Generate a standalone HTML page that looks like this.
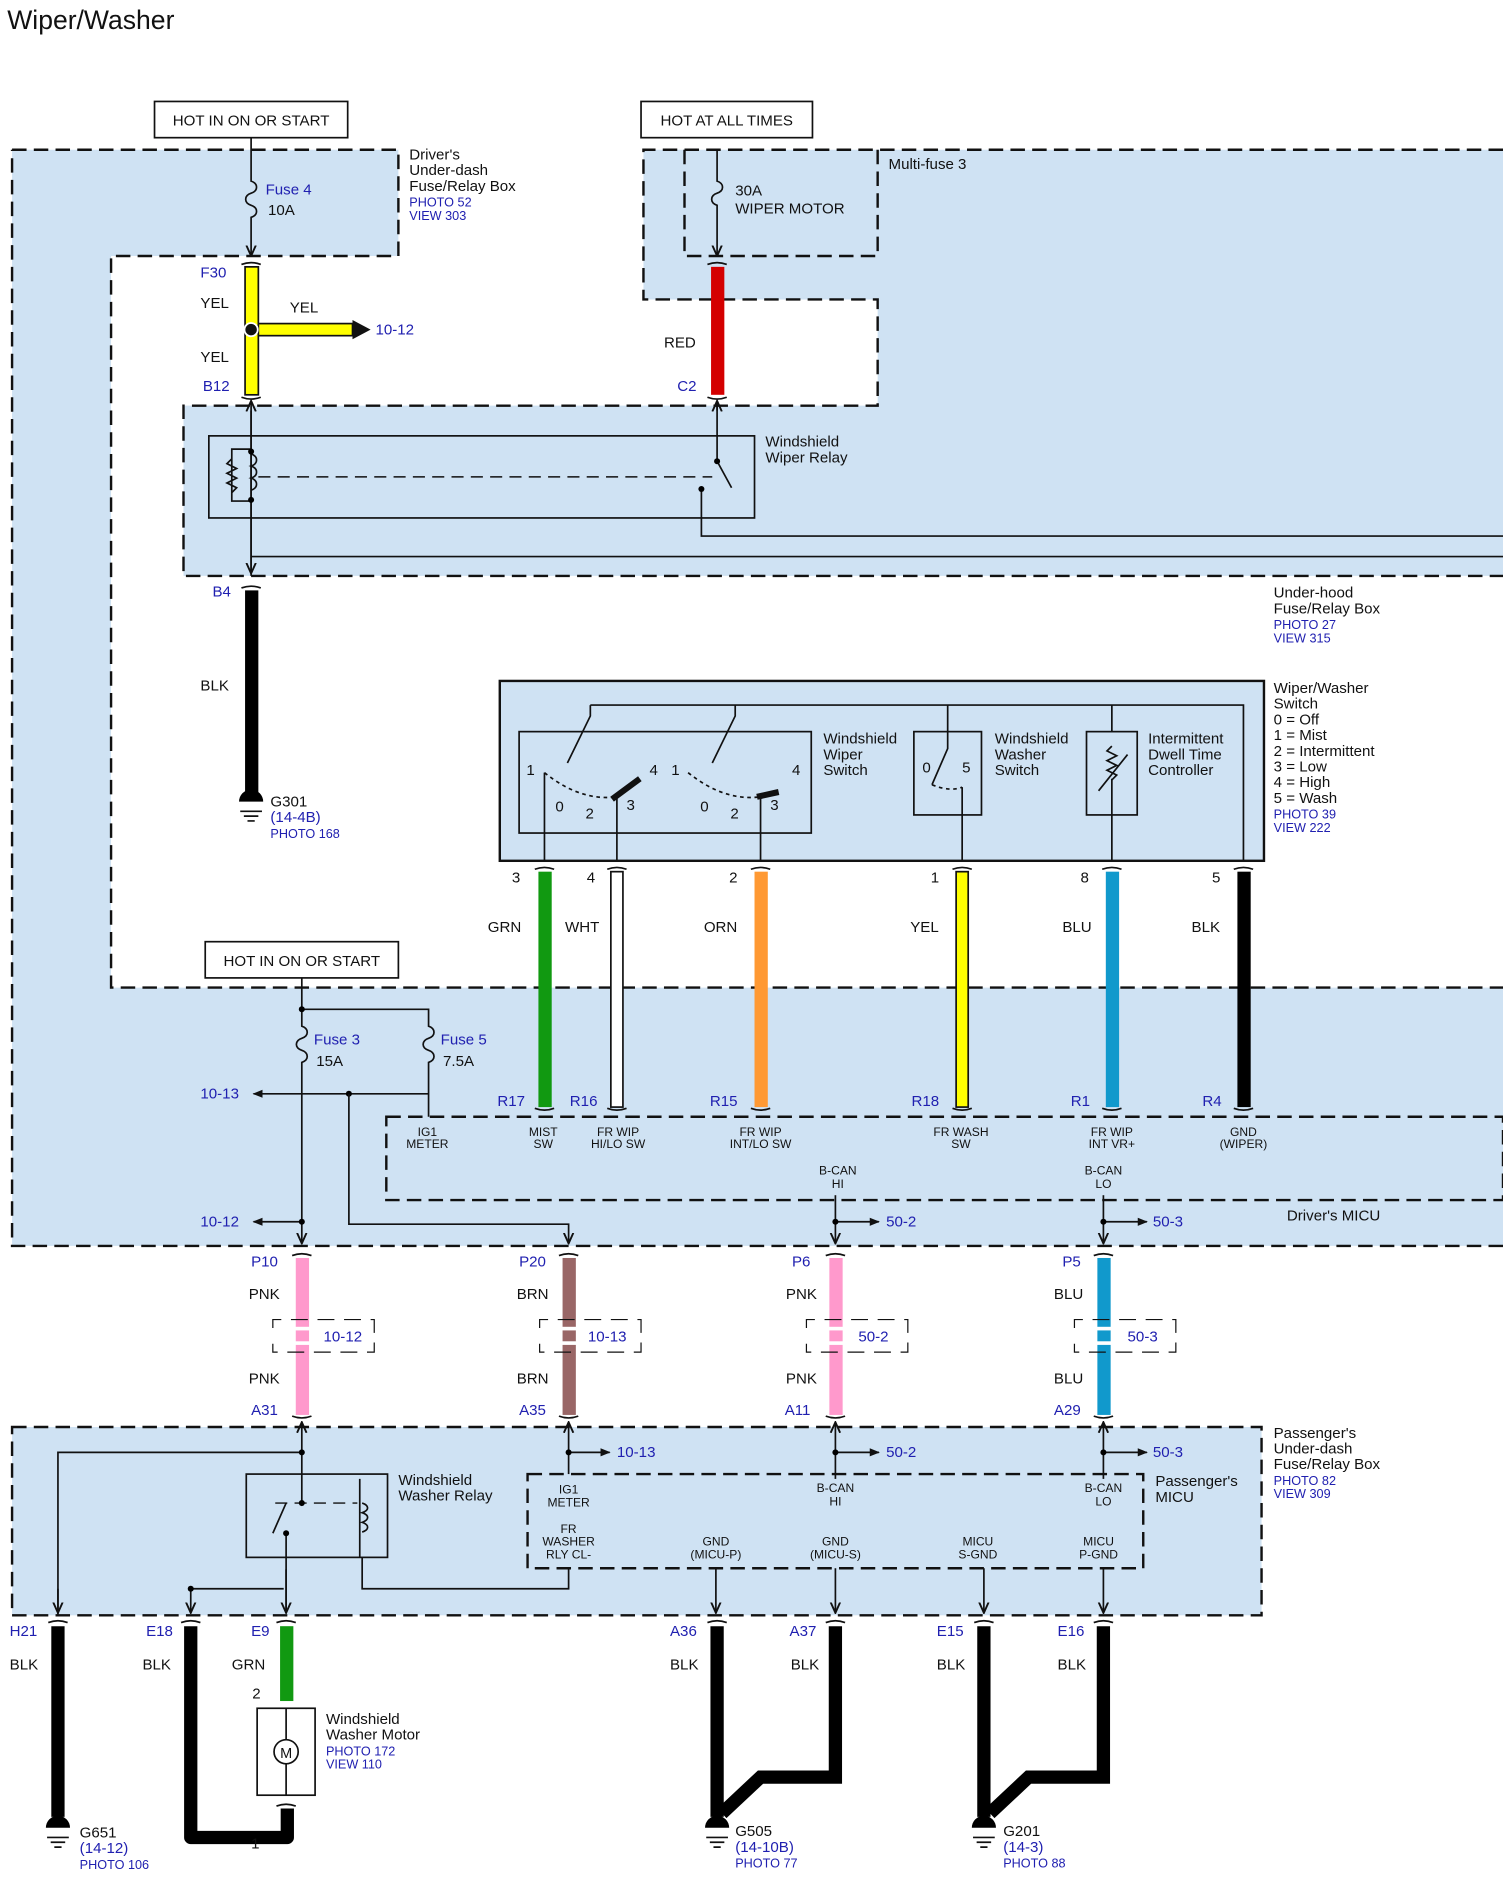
<!DOCTYPE html>
<html><head><meta charset="utf-8"><style>
html,body{margin:0;padding:0;background:#fff}
svg{display:block}
text{font-family:"Liberation Sans",Arial,sans-serif;font-size:12.5px;fill:#111}
.b{fill:#2020b0}
.s{font-size:10px}
.p{font-size:10.5px;fill:#2020b0}
.t{fill:none;stroke:#111;stroke-width:1.4}
.d{fill:none;stroke:#111;stroke-width:2;stroke-dasharray:12,6}
.dt{fill:none;stroke:#111;stroke-width:1.2;stroke-dasharray:10,6}
.m{text-anchor:middle}
</style></head><body>
<svg width="1503" height="1887" viewBox="0 0 1245 1563" xmlns="http://www.w3.org/2000/svg">
<defs>
<marker id="ar" viewBox="0 0 10 10" refX="9" refY="5" markerWidth="7" markerHeight="7" orient="auto"><path d="M0,1 L9,5 L0,9" fill="none" stroke="#111" stroke-width="1.6"/></marker>
<marker id="af" viewBox="0 0 10 10" refX="9" refY="5" markerWidth="6" markerHeight="6" orient="auto"><path d="M0,1 L10,5 L0,9 z" fill="#111"/></marker>
</defs>
<text x="6" y="24" style="font-size:22px">Wiper/Washer</text>

<!-- regions -->
<path d="M10,124 H330 V212 H92 V818 H1245 V1032 H10 Z" fill="#cfe2f3"/>
<path d="M10,124 H330 V212 H92 V818 H1245 M1245,1032 H10 V124" class="d"/>
<path d="M533,124 H1245 V477 H152 V336 H727 V248 H533 Z" fill="#cfe2f3"/>
<path d="M1245,124 H533 V248 H727 V336 H152 V477 H1245" class="d"/>
<path d="M567,124 V212 H727 V124" class="d"/>
<rect x="10" y="1182" width="1035" height="156" fill="#cfe2f3"/>
<rect x="10" y="1182" width="1035" height="156" class="d"/>
<rect x="320" y="925" width="925" height="69" class="d"/>
<rect x="437" y="1221" width="510" height="78" class="d"/>

<!-- top boxes -->
<rect x="128" y="84" width="160" height="30" fill="#fff" stroke="#111" stroke-width="1.4"/>
<text x="208" y="104" class="m">HOT IN ON OR START</text>
<rect x="531" y="84" width="142" height="30" fill="#fff" stroke="#111" stroke-width="1.4"/>
<text x="602" y="104" class="m">HOT AT ALL TIMES</text>

<!-- fuse 4 -->
<path d="M208,114 V150 c6,2 6,8 0,10 c-6,2 -6,8 0,10 c6,2 6,8 0,10 V212" class="t" marker-end="url(#ar)"/>
<text x="220" y="161" class="b">Fuse 4</text><text x="222" y="178">10A</text>
<text x="339" y="132">Driver's</text><text x="339" y="145">Under-dash</text><text x="339" y="158">Fuse/Relay Box</text>
<text x="339" y="171" class="p">PHOTO 52</text><text x="339" y="182" class="p">VIEW 303</text>

<!-- fuse 30A -->
<path d="M594,124 V150 c6,2 6,8 0,10 c-6,2 -6,8 0,10 V212" class="t" marker-end="url(#ar)"/>
<text x="609" y="162">30A</text><text x="609" y="177">WIPER MOTOR</text>
<text x="736" y="140">Multi-fuse 3</text>

<!-- yellow wire -->
<rect x="203" y="221" width="11" height="106" fill="#ffff00" stroke="#111" stroke-width="1.4"/>
<rect x="214" y="268" width="78" height="10" fill="#ffff00" stroke="#111" stroke-width="1.4"/>
<path d="M292,265 L307,273 L292,281 z" fill="#111"/>
<circle cx="208" cy="273" r="5.5" fill="#111" stroke="#fff" stroke-width="1.5"/>
<text x="311" y="277" class="b">10-12</text>
<text x="166" y="230" class="b">F30</text><text x="166" y="255">YEL</text><text x="240" y="259">YEL</text><text x="166" y="300">YEL</text><text x="168" y="324" class="b">B12</text>
<path d="M200,219 q8,-3 16,0 M200,329 q8,3 16,0" class="t" stroke-width="2"/>
<!-- red -->
<rect x="589" y="221" width="11" height="106" fill="#d40000"/>
<path d="M586,219 q8,-3 16,0 M586,329 q8,3 16,0" class="t" stroke-width="2"/>
<text x="550" y="288">RED</text><text x="561" y="324" class="b">C2</text>

<!-- wiper relay -->
<rect x="173" y="361" width="452" height="68" class="t"/>
<path d="M208,477 V332" class="t" marker-end="url(#ar)"/>
<path d="M208,340 V475" class="t" marker-end="url(#ar)"/>
<path d="M208,372 H192 V415 H208 M192,380 l-4,4 8,4 -8,4 8,4 -8,4 8,4 -4,4" class="t"/>
<path d="M208,376 c6,2 6,8 0,10 c6,2 6,8 0,10 c6,2 6,8 0,10" class="t"/>
<circle cx="208" cy="374" r="2.5"/><circle cx="208" cy="414" r="2.5"/>
<path d="M214,395 H590" class="dt"/>
<path d="M594,340 V382 L606,404 M594,340 V335" class="t"/>
<path d="M594,340 V332" class="t" marker-end="url(#ar)"/>
<path d="M581,405 V444 H1245 M208,461 H1245" class="t"/>
<circle cx="594" cy="382" r="2.5"/><circle cx="581" cy="405" r="2.5"/>
<text x="634" y="370">Windshield</text><text x="634" y="383">Wiper Relay</text>

<!-- B4 black -->
<rect x="203" y="489" width="11" height="170" fill="#000"/>
<path d="M200,487 q8,-3 16,0" class="t" stroke-width="2"/>
<text x="176" y="494" class="b">B4</text><text x="166" y="572">BLK</text>
<path d="M198,664 a10,10 0 0 1 20,0 z" fill="#000"/><path d="M199,672 h18 M202,676 h12 M205,680 h6" class="t"/>
<text x="224" y="668">G301</text><text x="224" y="681" class="b">(14-4B)</text><text x="224" y="694" class="p">PHOTO 168</text>
<text x="1055" y="495">Under-hood</text><text x="1055" y="508">Fuse/Relay Box</text><text x="1055" y="521" class="p">PHOTO 27</text><text x="1055" y="532" class="p">VIEW 315</text>

<!-- switch -->
<rect x="414" y="564" width="633" height="149" fill="#cfe2f3" stroke="#111" stroke-width="2"/>
<path d="M489,584 H1030 V713 M489,584 V593 L470,632 M609,584 V593 L590,632 M785,584 V620 L772,650 M921,584 V606" class="t"/>
<rect x="430" y="606" width="242" height="84" class="t"/>
<rect x="757" y="606" width="56" height="69" class="t"/>
<rect x="900" y="606" width="42" height="69" class="t"/>
<path d="M921,618 l-4,4 8,4 -8,4 8,4 -8,4 8,4 -4,4 M910,655 L934,625" class="t"/>
<path d="M921,645 V675 V713 M797,652 V713 M451,640 V713 M511,660 V713 M630,660 V713" class="t"/>
<path d="M451,640 q30,24 60,20 M570,640 q30,24 60,20 M772,650 q15,6 25,2" class="t" stroke-dasharray="3,3"/>
<path d="M507,662 L530,645 M627,660 L645,656" stroke="#111" stroke-width="5"/>
<text x="436" y="642">1</text><text x="538" y="642">4</text><text x="460" y="672">0</text><text x="485" y="678">2</text><text x="519" y="671">3</text>
<text x="556" y="642">1</text><text x="656" y="642">4</text><text x="580" y="672">0</text><text x="605" y="678">2</text><text x="638" y="671">3</text>
<text x="764" y="640">0</text><text x="797" y="640">5</text>
<text x="682" y="616">Windshield</text><text x="682" y="629">Wiper</text><text x="682" y="642">Switch</text>
<text x="824" y="616">Windshield</text><text x="824" y="629">Washer</text><text x="824" y="642">Switch</text>
<text x="951" y="616">Intermittent</text><text x="951" y="629">Dwell Time</text><text x="951" y="642">Controller</text>
<text x="1055" y="574">Wiper/Washer</text><text x="1055" y="587">Switch</text><text x="1055" y="600">0 = Off</text><text x="1055" y="613">1 = Mist</text><text x="1055" y="626">2 = Intermittent</text><text x="1055" y="639">3 = Low</text><text x="1055" y="652">4 = High</text><text x="1055" y="665">5 = Wash</text><text x="1055" y="678" class="p">PHOTO 39</text><text x="1055" y="689" class="p">VIEW 222</text>

<!-- switch wires -->
<g>
<rect x="446" y="722" width="11" height="195" fill="#119911"/>
<rect x="506" y="722" width="10" height="195" fill="#fff" stroke="#111" stroke-width="1.4"/>
<rect x="625" y="722" width="11" height="195" fill="#ff9933"/>
<rect x="792" y="722" width="10" height="195" fill="#ffff00" stroke="#111" stroke-width="1.4"/>
<rect x="916" y="722" width="11" height="195" fill="#1199cc"/>
<rect x="1025" y="722" width="11" height="195" fill="#000"/>
<path d="M443,720 q8,-3 16,0 M503,720 q8,-3 16,0 M622,720 q8,-3 16,0 M789,720 q8,-3 16,0 M913,720 q8,-3 16,0 M1022,720 q8,-3 16,0 M443,918 q8,3 16,0 M503,918 q8,3 16,0 M622,918 q8,3 16,0 M789,918 q8,3 16,0 M913,918 q8,3 16,0 M1022,918 q8,3 16,0" class="t" stroke-width="2"/>
</g>
<text x="424" y="731">3</text><text x="486" y="731">4</text><text x="604" y="731">2</text><text x="771" y="731">1</text><text x="895" y="731">8</text><text x="1004" y="731">5</text>
<text x="404" y="772">GRN</text><text x="468" y="772">WHT</text><text x="583" y="772">ORN</text><text x="754" y="772">YEL</text><text x="880" y="772">BLU</text><text x="987" y="772">BLK</text>
<text x="412" y="916" class="b">R17</text><text x="472" y="916" class="b">R16</text><text x="588" y="916" class="b">R15</text><text x="755" y="916" class="b">R18</text><text x="887" y="916" class="b">R1</text><text x="996" y="916" class="b">R4</text>
<g class="s">
<text x="354" y="941" class="s m">IG1</text><text x="354" y="951" class="s m">METER</text>
<text x="450" y="941" class="s m">MIST</text><text x="450" y="951" class="s m">SW</text>
<text x="512" y="941" class="s m">FR WIP</text><text x="512" y="951" class="s m">HI/LO SW</text>
<text x="630" y="941" class="s m">FR WIP</text><text x="630" y="951" class="s m">INT/LO SW</text>
<text x="796" y="941" class="s m">FR WASH</text><text x="796" y="951" class="s m">SW</text>
<text x="921" y="941" class="s m">FR WIP</text><text x="921" y="951" class="s m">INT VR+</text>
<text x="1030" y="941" class="s m">GND</text><text x="1030" y="951" class="s m">(WIPER)</text>
<text x="694" y="973" class="s m">B-CAN</text><text x="694" y="984" class="s m">HI</text>
<text x="914" y="973" class="s m">B-CAN</text><text x="914" y="984" class="s m">LO</text>
</g>
<text x="1066" y="1011">Driver's MICU</text>

<!-- fuse 3/5 -->
<rect x="170" y="780" width="160" height="30" fill="#fff" stroke="#111" stroke-width="1.4"/>
<text x="250" y="800" class="m">HOT IN ON OR START</text>
<path d="M250,810 V850 c6,2 6,8 0,10 c-6,2 -6,8 0,10 c6,2 6,8 0,10 V1030" class="t" marker-end="url(#ar)"/>
<path d="M250,836 H355 V850 c6,2 6,8 0,10 c-6,2 -6,8 0,10 c6,2 6,8 0,10 V925" class="t"/>
<circle cx="250" cy="836" r="2.5"/>
<text x="260" y="865" class="b">Fuse 3</text><text x="262" y="883">15A</text>
<text x="365" y="865" class="b">Fuse 5</text><text x="367" y="883">7.5A</text>
<path d="M355,906 H210" class="t" marker-end="url(#af)"/>
<circle cx="289" cy="906" r="2.5"/>
<path d="M289,906 V1014 H471 V1030" class="t" marker-end="url(#ar)"/>
<text x="166" y="910" class="b">10-13</text>
<path d="M250,1012 H210" class="t" marker-end="url(#af)"/><circle cx="250" cy="1012" r="2.5"/>
<text x="166" y="1016" class="b">10-12</text>
<path d="M692,990 V1030" class="t" marker-end="url(#ar)"/><path d="M692,1012 H728" class="t" marker-end="url(#af)"/><circle cx="692" cy="1012" r="2.5"/>
<text x="734" y="1016" class="b">50-2</text>
<path d="M914,990 V1030" class="t" marker-end="url(#ar)"/><path d="M914,1012 H950" class="t" marker-end="url(#af)"/><circle cx="914" cy="1012" r="2.5"/>
<text x="955" y="1016" class="b">50-3</text>

<!-- middle wires -->
<rect x="245" y="1042" width="11" height="130" fill="#ff99cc"/>
<rect x="466" y="1042" width="11" height="130" fill="#996666"/>
<rect x="687" y="1042" width="11" height="130" fill="#ff99cc"/>
<rect x="909" y="1042" width="11" height="130" fill="#1199cc"/>
<path d="M242,1040 q8,-3 16,0 M463,1040 q8,-3 16,0 M684,1040 q8,-3 16,0 M906,1040 q8,-3 16,0 M242,1173 q8,3 16,0 M463,1173 q8,3 16,0 M684,1173 q8,3 16,0 M906,1173 q8,3 16,0" class="t" stroke-width="2"/>
<g fill="#fff"><rect x="240" y="1099" width="20" height="3"/><rect x="240" y="1111" width="20" height="3"/><rect x="461" y="1099" width="20" height="3"/><rect x="461" y="1111" width="20" height="3"/><rect x="682" y="1099" width="20" height="3"/><rect x="682" y="1111" width="20" height="3"/><rect x="904" y="1099" width="20" height="3"/><rect x="904" y="1111" width="20" height="3"/></g>
<path d="M226,1100 V1093 H310 V1120 H226 V1113 M447,1100 V1093 H531 V1120 H447 V1113 M668,1100 V1093 H752 V1120 H668 V1113 M890,1100 V1093 H974 V1120 H890 V1113" fill="none" stroke="#111" stroke-width="1" stroke-dasharray="14,8"/>
<text x="268" y="1111" class="b">10-12</text><text x="487" y="1111" class="b">10-13</text><text x="711" y="1111" class="b">50-2</text><text x="934" y="1111" class="b">50-3</text>
<text x="208" y="1049" class="b">P10</text><text x="430" y="1049" class="b">P20</text><text x="656" y="1049" class="b">P6</text><text x="880" y="1049" class="b">P5</text>
<text x="206" y="1076">PNK</text><text x="428" y="1076">BRN</text><text x="651" y="1076">PNK</text><text x="873" y="1076">BLU</text>
<text x="206" y="1146">PNK</text><text x="428" y="1146">BRN</text><text x="651" y="1146">PNK</text><text x="873" y="1146">BLU</text>
<text x="208" y="1172" class="b">A31</text><text x="430" y="1172" class="b">A35</text><text x="650" y="1172" class="b">A11</text><text x="873" y="1172" class="b">A29</text>

<!-- passenger box -->
<path d="M250,1221 V1178" class="t" marker-end="url(#ar)"/>
<path d="M471,1221 V1178" class="t" marker-end="url(#ar)"/><path d="M471,1203 H505" class="t" marker-end="url(#af)"/><circle cx="471" cy="1203" r="2.5"/>
<text x="511" y="1207" class="b">10-13</text>
<path d="M692,1225 V1178" class="t" marker-end="url(#ar)"/><path d="M692,1203 H728" class="t" marker-end="url(#af)"/><circle cx="692" cy="1203" r="2.5"/>
<text x="734" y="1207" class="b">50-2</text>
<path d="M914,1225 V1178" class="t" marker-end="url(#ar)"/><path d="M914,1203 H950" class="t" marker-end="url(#af)"/><circle cx="914" cy="1203" r="2.5"/>
<text x="955" y="1207" class="b">50-3</text>
<text x="1055" y="1191">Passenger's</text><text x="1055" y="1204">Under-dash</text><text x="1055" y="1217">Fuse/Relay Box</text><text x="1055" y="1230" class="p">PHOTO 82</text><text x="1055" y="1241" class="p">VIEW 309</text>
<text x="957" y="1231">Passenger's</text><text x="957" y="1244">MICU</text>

<rect x="204" y="1221" width="117" height="69" class="t"/>
<text x="330" y="1230">Windshield</text><text x="330" y="1243">Washer Relay</text>
<path d="M250,1203 H48 V1338 M250,1221 V1245 M237,1245 L226,1270 M237,1270 V1336 M298,1225 V1290 M300,1245 c6,2 6,6 0,8 c6,2 6,6 0,8 c6,2 6,6 0,8" class="t"/>
<path d="M228,1245 H296" class="dt"/>
<circle cx="250" cy="1203" r="2.5"/><circle cx="250" cy="1245" r="2.5"/><circle cx="237" cy="1270" r="2.5"/>
<path d="M471,1299 V1316 H300 V1290 M158,1316 H235" class="t"/>
<path d="M158,1316 V1336" class="t" marker-end="url(#ar)"/>
<path d="M48,1316 V1336" class="t" marker-end="url(#ar)"/>
<path d="M237,1300 V1336" class="t" marker-end="url(#ar)"/>
<circle cx="158" cy="1316" r="2.5"/>
<path d="M593,1299 V1336" class="t" marker-end="url(#ar)"/>
<path d="M692,1299 V1336" class="t" marker-end="url(#ar)"/>
<path d="M815,1299 V1336" class="t" marker-end="url(#ar)"/>
<path d="M914,1299 V1336" class="t" marker-end="url(#ar)"/>
<text x="471" y="1237" class="s m">IG1</text><text x="471" y="1248" class="s m">METER</text>
<text x="471" y="1270" class="s m">FR</text><text x="471" y="1280" class="s m">WASHER</text><text x="471" y="1291" class="s m">RLY CL-</text>
<text x="593" y="1280" class="s m">GND</text><text x="593" y="1291" class="s m">(MICU-P)</text>
<text x="692" y="1280" class="s m">GND</text><text x="692" y="1291" class="s m">(MICU-S)</text>
<text x="810" y="1280" class="s m">MICU</text><text x="810" y="1291" class="s m">S-GND</text>
<text x="910" y="1280" class="s m">MICU</text><text x="910" y="1291" class="s m">P-GND</text>
<text x="692" y="1236" class="s m">B-CAN</text><text x="692" y="1247" class="s m">HI</text>
<text x="914" y="1236" class="s m">B-CAN</text><text x="914" y="1247" class="s m">LO</text>

<!-- bottom wires -->
<path d="M40,1344 q8,-3 16,0 M150,1344 q8,-3 16,0 M229,1344 q8,-3 16,0 M586,1344 q8,-3 16,0 M684,1344 q8,-3 16,0 M807,1344 q8,-3 16,0 M906,1344 q8,-3 16,0 M229,1496 q8,-3 16,0" class="t" stroke-width="2"/>
<path d="M48,1347 V1505" stroke="#000" stroke-width="11" fill="none"/>
<path d="M158,1347 V1522 H238 V1498" stroke="#000" stroke-width="11" fill="none" stroke-linejoin="round"/>
<rect x="232" y="1347" width="11" height="62" fill="#119911"/>
<path d="M594,1347 V1505 M692,1347 V1472 H630 L598,1502" stroke="#000" stroke-width="11" fill="none"/>
<path d="M815,1347 V1505 M914,1347 V1472 H852 L820,1502" stroke="#000" stroke-width="11" fill="none"/>
<text x="8" y="1355" class="b">H21</text><text x="121" y="1355" class="b">E18</text><text x="208" y="1355" class="b">E9</text><text x="555" y="1355" class="b">A36</text><text x="654" y="1355" class="b">A37</text><text x="776" y="1355" class="b">E15</text><text x="876" y="1355" class="b">E16</text>
<text x="8" y="1383">BLK</text><text x="118" y="1383">BLK</text><text x="192" y="1383">GRN</text><text x="555" y="1383">BLK</text><text x="655" y="1383">BLK</text><text x="776" y="1383">BLK</text><text x="876" y="1383">BLK</text>
<text x="209" y="1407">2</text><text x="208" y="1531">1</text>
<rect x="213" y="1415" width="48" height="72" class="t"/>
<circle cx="237" cy="1451" r="10" class="t"/><text x="237" y="1456" class="m" style="font-size:12px">M</text>
<path d="M237,1415 V1441 M237,1461 V1487" class="t"/>
<text x="270" y="1428">Windshield</text><text x="270" y="1441">Washer Motor</text><text x="270" y="1454" class="p">PHOTO 172</text><text x="270" y="1465" class="p">VIEW 110</text>
<!-- grounds -->
<g>
<path d="M38,1514 a10,10 0 0 1 20,0 z" fill="#000"/><path d="M39,1522 h18 M42,1526 h12 M45,1530 h6" class="t"/>
<path d="M584,1514 a10,10 0 0 1 20,0 z" fill="#000"/><path d="M585,1522 h18 M588,1526 h12 M591,1530 h6" class="t"/>
<path d="M805,1514 a10,10 0 0 1 20,0 z" fill="#000"/><path d="M806,1522 h18 M809,1526 h12 M812,1530 h6" class="t"/>
</g>
<text x="66" y="1522">G651</text><text x="66" y="1535" class="b">(14-12)</text><text x="66" y="1548" class="p">PHOTO 106</text>
<text x="609" y="1521">G505</text><text x="609" y="1534" class="b">(14-10B)</text><text x="609" y="1547" class="p">PHOTO 77</text>
<text x="831" y="1521">G201</text><text x="831" y="1534" class="b">(14-3)</text><text x="831" y="1547" class="p">PHOTO 88</text>
</svg>
</body></html>
